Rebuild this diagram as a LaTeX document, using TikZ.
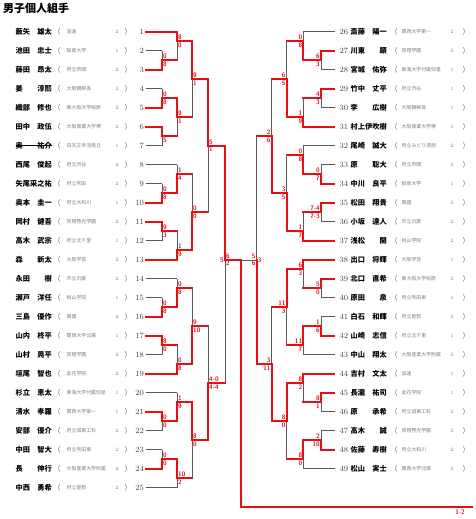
\documentclass[tikz,border=0pt]{standalone}
\usepackage{fontspec}
\usepackage{tikz}
\usetikzlibrary{calc}
\newfontfamily\jpfont{Noto Sans CJK JP}
\definecolor{bracketred}{RGB}{228,16,22}
\definecolor{bracketgray}{RGB}{90,90,90}
\definecolor{schoolgray}{RGB}{125,125,125}

% one bout: name, column x, junction weight, top entry, bottom entry,
% top score, bottom score, top path style, bottom path style
\newcommand{\bout}[9]{%
  \path let \p1 = ($(#4)!#3!(#5)$) in coordinate (#1) at (#2pt,\y1);
  \coordinate (#1t) at (#4 -| #1);
  \coordinate (#1b) at (#5 -| #1);
  \draw[#8h] (#4) -- (#1t);
  \draw[#8v] (#1t) -- (#1);
  \draw[#9h] (#5) -- (#1b);
  \draw[#9v] (#1b) -- (#1);
  \node[topscore] at (#1) {#6};
  \node[botscore] at (#1) {#7};
}

\begin{document}
\begin{tikzpicture}[
    x=1pt, y=-1pt,
    redpath/.style={draw=bracketred, line width=1.8pt, line cap=rect},
    graypath/.style={draw=bracketgray, line width=0.8pt},
    wonh/.style={redpath}, wonv/.style={redpath},   % won this bout
    losth/.style={graypath}, lostv/.style={graypath}, % player lost first bout
    fellh/.style={redpath}, fellv/.style={graypath},  % winner of earlier bout, lost here
    score/.style={font=\sffamily\bfseries\fontsize{6.5}{6.5}\selectfont, text=bracketred, inner xsep=1pt, inner ysep=1.1pt},
    topscore/.style={score, anchor=south west},
    botscore/.style={score, anchor=north west},
    namefont/.style={font=\jpfont\bfseries\fontsize{7.2}{8}\selectfont, inner sep=0pt},
    schoolfont/.style={font=\jpfont\fontsize{4.9}{5}\selectfont, text=schoolgray, inner sep=0pt},
    parenfont/.style={font=\jpfont\fontsize{7}{8}\selectfont, text=bracketgray, inner sep=0pt},
    gradefont/.style={font=\fontsize{5}{6}\selectfont, text=schoolgray, inner sep=0pt},
    seedno/.style={font=\fontsize{8}{9}\selectfont, text=black!75, inner sep=0pt}
]
    \useasboundingbox (0,0) rectangle (475,519);

    \node[namefont, font=\jpfont\bfseries\fontsize{11}{12}\selectfont, anchor=west] (title) at (3,8.5) {男子個人組手};

%    ############# LEFT PLAYERS 1-25
    \foreach \i/\nm/\sc/\gr in {
        1/藪矢　雄太/浪速/2, 2/池田　忠士/阪南大学/1, 3/藤田　昂太/府立芦間/2,
        4/姜　　淳熙/大阪朝鮮高/2, 5/織部　修也/東大阪大学柏原/2, 6/田中　政伍/大阪商業大学堺/2,
        7/奥　　祐介/四天王寺羽曳丘/1, 8/西尾　俊起/府立渋谷/2, 9/矢尾采之祐/府立吹田/2,
        10/奥本　圭一/府立大和川/1, 11/岡村　健吾/常翔啓光学園/2, 12/高木　武宗/府立北千里/1,
        13/森　　新太/大阪学芸/2, 14/永田　　樹/市立汎愛/2, 15/瀬戸　洋任/桃山学院/1,
        16/三島　優作/興國/2, 17/山内　柊平/関西大学北陽/1, 18/山村　晃平/常翔学園/2,
        19/垣尾　智也/此花学院/2, 20/杉立　恵太/東海大学付属仰星/1, 21/清水　孝羅/関西大学第一/1,
        22/安部　優介/府立城東工科/2, 23/中田　智大/府立吹田東/2, 24/長　　伸行/大阪産業大学附属/2,
        25/中西　勇希/府立能勢/2}
    {
        \coordinate (p\i) at (145.5,{31.7+(\i-1)*19});
        \node[seedno, anchor=east] (s\i) at (144,{31.7+(\i-1)*19}) {\i};
        \node[namefont, anchor=west] (n\i) at (15.5,{31.7+(\i-1)*19}) {\nm};
        \node[parenfont] at (57,{31.7+(\i-1)*19}) {（};
        \node[schoolfont, anchor=west] at (66.5,{31.7+(\i-1)*19}) {\sc};
        \node[gradefont] at (117,{31.7+(\i-1)*19}) {\gr};
        \node[parenfont] at (128,{31.7+(\i-1)*19}) {）};
    }
    \draw[black, line width=0.6pt] (n7.west) -- (n7.east); % withdrawn

%    ############# RIGHT PLAYERS 26-49
    \foreach \i/\nm/\sc/\gr in {
        26/斎藤　陽一/関西大学第一/2, 27/川東　　顕/常翔学園/2, 28/宮城　佑弥/東海大学付属仰星/1,
        29/竹中　丈平/府立渋谷/1, 30/李　　広樹/大阪朝鮮高/1, 31/村上伊吹樹/大阪商業大学堺/1,
        32/尾崎　誠大/府立みどり清朋/2, 33/原　　聡大/府立芦間/2, 34/中川　良平/阪南大学/1,
        35/松田　翔貴/興國/2, 36/小坂　達人/市立汎愛/2, 37/浅松　　開/桃山学院/2,
        38/出口　将輝/大阪学芸/1, 39/北口　直希/東大阪大学柏原/2, 40/原田　　泉/府立吹田東/1,
        41/白石　和輝/府立能勢/2, 42/山崎　志信/府立北千里/1, 43/中山　翔太/大阪産業大学附属/2,
        44/吉村　文太/浪速/1, 45/長瀧　祐司/此花学院/1, 46/原　　承希/府立城東工科/2,
        47/高木　　誠/常翔啓光学園/2, 48/佐藤　寿樹/府立大和川/2, 49/松山　実士/関西大学北陽/2}
    {
        \coordinate (p\i) at (334.5,{31.7+(\i-26)*19});
        \node[seedno, anchor=west] (s\i) at (339.5,{31.7+(\i-26)*19}) {\i};
        \node[namefont, anchor=west] (n\i) at (350.5,{31.7+(\i-26)*19}) {\nm};
        \node[parenfont] at (394,{31.7+(\i-26)*19}) {（};
        \node[schoolfont, anchor=west] at (401.5,{31.7+(\i-26)*19}) {\sc};
        \node[gradefont] at (452,{31.7+(\i-26)*19}) {\gr};
        \node[parenfont] at (466,{31.7+(\i-26)*19}) {）};
    }

%    ######## LEFT BRACKET
    \bout{a1}{162}{0.5}{p2}{p3}{0}{8}{lost}{won}
    \bout{a2}{177}{0.3333}{p1}{a1}{8}{0}{won}{fell}
    \bout{a3}{162}{0.5}{p4}{p5}{0}{8}{lost}{won}
    \bout{a4}{162}{0.5}{p6}{p7}{}{5}{won}{lost}
    \bout{a5}{177}{0.5}{a3}{a4}{9}{1}{won}{fell}
    \bout{a6}{192}{0.5}{a2}{a5}{9}{1}{won}{fell}
    \bout{b1}{162}{0.5}{p9}{p10}{0}{8}{lost}{won}
    \bout{b2}{177}{0.3333}{p8}{b1}{1}{4}{lost}{won}
    \bout{b3}{162}{0.5}{p11}{p12}{9}{3}{won}{lost}
    \bout{b4}{177}{0.6667}{b3}{p13}{1}{9}{fell}{won}
    \bout{b5}{192}{0.5}{b2}{b4}{0}{0}{fell}{won}
    \bout{ab}{208}{0.5}{a6}{b5}{5}{1}{won}{fell}
    \bout{c1}{162}{0.5}{p15}{p16}{0}{8}{lost}{won}
    \bout{c2}{177}{0.3333}{p14}{c1}{0}{8}{lost}{won}
    \bout{c3}{162}{0.5}{p17}{p18}{8}{0}{won}{lost}
    \bout{c4}{177}{0.6667}{c3}{p19}{0}{8}{fell}{won}
    \bout{c5}{192}{0.5}{c2}{c4}{9}{10}{fell}{won}
    \bout{d1}{162}{0.5}{p21}{p22}{0}{0}{won}{lost}
    \bout{d2}{177}{0.3333}{p20}{d1}{1}{9}{lost}{won}
    \bout{d3}{162}{0.5}{p23}{p24}{0}{0}{lost}{won}
    \bout{d4}{177}{0.6667}{d3}{p25}{10}{2}{won}{lost}
    \bout{d5}{192}{0.5}{d2}{d4}{8}{0}{won}{fell}
    \bout{cd}{208}{0.5}{c5}{d5}{4-0}{4-4}{fell}{won}

    % left semi final
    \coordinate (lsemi) at (225,260);
    \coordinate (lsemit) at (ab -| lsemi);
    \coordinate (lsemib) at (cd -| lsemi);
    \draw[fellh] (cd) -- (lsemib);
    \draw[fellv] (lsemib) -- (lsemi);
    \draw[wonh] (ab) -- (lsemit);
    \draw[wonv] (lsemit) -- (lsemi);
    \node[topscore] at (lsemi) {6};
    \node[botscore] at (lsemi) {2};

%    ######## RIGHT BRACKET
    \tikzset{topscore/.style={score, anchor=south east}, botscore/.style={score, anchor=north east}}
    \bout{e1}{321}{0.5}{p27}{p28}{6}{3}{won}{lost}
    \bout{e2}{303.3}{0.3333}{p26}{e1}{0}{8}{lost}{won}
    \bout{e3}{321}{0.5}{p29}{p30}{4}{3}{won}{lost}
    \bout{e4}{303.3}{0.6667}{e3}{p31}{1}{9}{fell}{won}
    \bout{e5}{286.7}{0.5}{e2}{e4}{6}{5}{fell}{won}
    \bout{f1}{321}{0.5}{p33}{p34}{0}{7}{lost}{won}
    \bout{f2}{303.3}{0.3333}{p32}{f1}{0}{8}{lost}{won}
    \bout{f3}{321}{0.5}{p35}{p36}{7-4}{7-3}{won}{lost}
    \bout{f4}{303.3}{0.6667}{f3}{p37}{1}{7}{fell}{won}
    \bout{f5}{286.7}{0.5}{f2}{f4}{3}{5}{fell}{won}
    \bout{ef}{271.7}{0.5}{e5}{f5}{2}{6}{fell}{won}
    \bout{g1}{321}{0.5}{p39}{p40}{5}{0}{won}{lost}
    \bout{g2}{303.3}{0.3333}{p38}{g1}{6}{3}{won}{fell}
    \bout{g3}{321}{0.5}{p41}{p42}{1}{6}{lost}{won}
    \bout{g4}{303.3}{0.6667}{g3}{p43}{11}{7}{won}{lost}
    \bout{g5}{286.7}{0.5}{g2}{g4}{11}{3}{won}{fell}
    \bout{h1}{321}{0.5}{p45}{p46}{8}{1}{won}{lost}
    \bout{h2}{303.3}{0.3333}{p44}{h1}{8}{2}{won}{fell}
    \bout{h3}{321}{0.5}{p47}{p48}{2}{10}{lost}{won}
    \bout{h4}{303.3}{0.6667}{h3}{p49}{8}{0}{won}{lost}
    \bout{h5}{286.7}{0.5}{h2}{h4}{8}{0}{won}{fell}
    \bout{gh}{271.7}{0.5}{g5}{h5}{3}{11}{fell}{won}

    % right semi final
    \coordinate (rsemi) at (256.7,260);
    \coordinate (rsemit) at (ef -| rsemi);
    \coordinate (rsemib) at (gh -| rsemi);
    \draw[fellh] (ef) -- (rsemit);
    \draw[fellv] (rsemit) -- (rsemi);
    \draw[wonh] (gh) -- (rsemib);
    \draw[wonv] (rsemib) -- (rsemi);
    \node[topscore] at (rsemi) {5};
    \node[botscore] at (rsemi) {6};

%    ######## FINAL
    \coordinate (champ) at (241,260);
    \coordinate (goal) at (472,507);
    \draw[graypath] (rsemi) -- (champ);
    \draw[redpath] (lsemi) -- (champ);
    \draw[redpath] (champ) |- (goal);
    \node[score, anchor=east] at (lsemi) {5};
    \node[score, anchor=west] at (rsemi) {3};
    \node[score, anchor=north east] at ($(goal)+(-6,2)$) {1-2};

\end{tikzpicture}
\end{document}
